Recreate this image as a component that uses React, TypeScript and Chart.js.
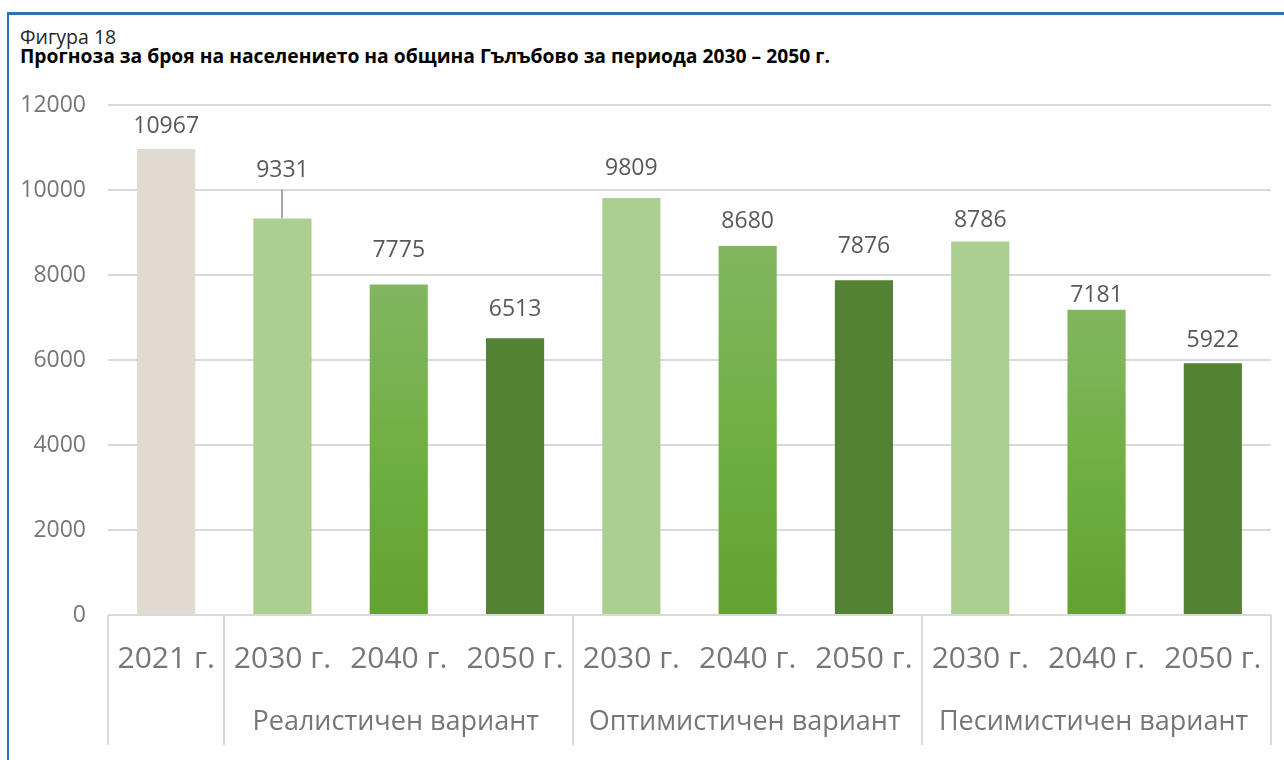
import React, { useEffect, useRef } from "react";
import { Chart, registerables } from "chart.js";

Chart.register(...registerables);

// ---- data ----
const yearLabels = ["2021 г.", "2030 г.", "2040 г.", "2050 г.", "2030 г.", "2040 г.", "2050 г.", "2030 г.", "2040 г.", "2050 г."];
const groupLabels = ["", "Реалистичен вариант", "Оптимистичен вариант", "Песимистичен вариант"];
const groupSizes = [1, 3, 3, 3];
const population = [10967, 9331, 7775, 6513, 9809, 8680, 7876, 8786, 7181, 5922];
const yTickStep = 2000;
const yMax = 12000;

// ---- style ----
const barKinds = ["base", "light", "grad", "dark", "light", "grad", "dark", "light", "grad", "dark"];
const labelRaise = [22, 48, 34, 29, 30, 25, 34, 21, 14, 23];
const calloutIndex = 1;
const FONT = "'Open Sans', 'Noto Sans', sans-serif";
const AXIS_COLOR = "#767676";
const LABEL_COLOR = "#595959";
const GRID = "#d9d9d9";

const groupPlugin = {
  id: "groupAxis",
  afterDraw(chart: any) {
    const x = chart.scales.x;
    const area = chart.chartArea;
    const ctx = chart.ctx;
    const half = (x.getPixelForValue(1) - x.getPixelForValue(0)) / 2;
    const bounds = [0];
    groupSizes.forEach((s) => bounds.push(bounds[bounds.length - 1] + s));
    ctx.save();
    ctx.strokeStyle = GRID;
    ctx.lineWidth = 2;
    bounds.forEach((b) => {
      const px = Math.round(x.getPixelForValue(b) - half);
      ctx.beginPath();
      ctx.moveTo(px, area.bottom);
      ctx.lineTo(px, 745);
      ctx.stroke();
    });
    ctx.fillStyle = AXIS_COLOR;
    ctx.font = `27px ${FONT}`;
    ctx.textAlign = "center";
    ctx.textBaseline = "middle";
    for (let g = 0; g < groupLabels.length; g++) {
      if (!groupLabels[g]) continue;
      const l = x.getPixelForValue(bounds[g]) - half;
      const r = x.getPixelForValue(bounds[g + 1]) - half;
      ctx.fillText(groupLabels[g], (l + r) / 2 - 3, 722);
    }
    ctx.restore();
  },
};

const valuePlugin = {
  id: "valueLabels",
  afterDatasetsDraw(chart: any) {
    const meta = chart.getDatasetMeta(0);
    const ctx = chart.ctx;
    ctx.save();
    ctx.font = `23px ${FONT}`;
    ctx.fillStyle = LABEL_COLOR;
    ctx.textAlign = "center";
    ctx.textBaseline = "middle";
    meta.data.forEach((bar: any, i: number) => {
      const v = chart.data.datasets[0].data[i];
      const ty = bar.y - labelRaise[i];
      if (i === calloutIndex) {
        ctx.strokeStyle = "#a6a6a6";
        ctx.lineWidth = 2;
        ctx.beginPath();
        ctx.moveTo(Math.round(bar.x), ty + 19);
        ctx.lineTo(Math.round(bar.x), bar.y);
        ctx.stroke();
      }
      ctx.fillText(String(v), bar.x, ty);
    });
    ctx.restore();
  },
};

function barColor(c: any) {
  const kind = barKinds[c.dataIndex];
  if (kind === "base") return "#e0dad0";
  if (kind === "light") return "#abcf90";
  if (kind === "dark") return "#548235";
  const chart = c.chart;
  const ys = chart.scales && chart.scales.y;
  if (!ys || !chart.chartArea) return "#70ad47";
  const v = chart.data.datasets[0].data[c.dataIndex];
  const top = ys.getPixelForValue(v);
  const bottom = ys.getPixelForValue(0);
  const g = chart.ctx.createLinearGradient(0, top, 0, bottom);
  g.addColorStop(0, "#82b661");
  g.addColorStop(0.5, "#70b043");
  g.addColorStop(1, "#61a232");
  return g;
}

export default function App() {
  const canvasRef = useRef<HTMLCanvasElement | null>(null);

  useEffect(() => {
    const canvas = canvasRef.current;
    if (!canvas) return;
    const chart = new Chart(canvas, {
      type: "bar",
      data: {
        labels: yearLabels,
        datasets: [
          {
            data: population,
            backgroundColor: barColor as any,
            borderWidth: 0,
            barPercentage: 1,
            categoryPercentage: 0.5,
          },
        ],
      },
      options: {
        animation: false,
        responsive: false,
        maintainAspectRatio: false,
        events: [],
        layout: { padding: { top: 105, right: 13, left: 0, bottom: 0 } },
        plugins: {
          legend: { display: false },
          tooltip: { enabled: false },
        },
        scales: {
          x: {
            grid: { display: false, drawTicks: false },
            border: { display: false },
            ticks: {
              font: { family: FONT, size: 30 },
              color: AXIS_COLOR,
              padding: 26,
              maxRotation: 0,
              autoSkip: false,
            },
            afterFit: (s: any) => {
              s.height = 145;
              s.paddingLeft = 0;
              s.paddingRight = 0;
            },
          },
          y: {
            min: 0,
            max: yMax,
            ticks: {
              stepSize: yTickStep,
              padding: 22,
              font: { family: FONT, size: 23 },
              color: AXIS_COLOR,
              callback: (v: any) => String(v),
            },
            grid: { color: GRID, lineWidth: 2, drawTicks: false },
            border: { display: false },
            afterFit: (s: any) => {
              s.width = 108;
            },
          },
        },
      },
      plugins: [groupPlugin, valuePlugin],
    });
    return () => chart.destroy();
  }, []);

  return (
    <div style={{ position: "fixed", left: 0, top: 0, width: 1284, height: 760, background: "#fff", overflow: "hidden" }}>
      <div
        style={{
          position: "absolute",
          left: 7,
          top: 12,
          width: 1400,
          height: 900,
          borderLeft: "2px solid #2e74b5",
          borderTop: "3px solid #2e74b5",
        }}
      />
      <div style={{ position: "absolute", left: 20, top: 26, fontFamily: FONT, fontSize: 19.5, lineHeight: "22px", color: "#262626", whiteSpace: "nowrap" }}>
        Фигура 18
      </div>
      <div style={{ position: "absolute", left: 20, top: 45, fontFamily: FONT, fontSize: 19.3, lineHeight: "22px", fontWeight: 700, color: "#000", whiteSpace: "nowrap" }}>
        Прогноза за броя на населението на община Гълъбово за периода 2030 – 2050 г.
      </div>
      <canvas ref={canvasRef} width={1284} height={760} style={{ position: "absolute", left: 0, top: 0, width: 1284, height: 760 }} />
    </div>
  );
}
